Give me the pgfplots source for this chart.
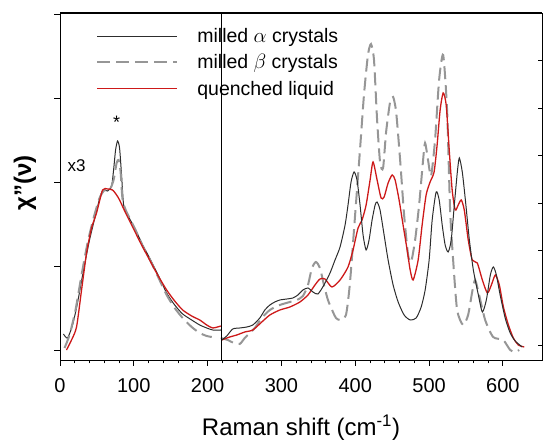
\documentclass[border=0pt]{standalone}
\usepackage{fontspec}
\setmainfont{Liberation Sans}
\usepackage{pgfplots}
\pgfplotsset{compat=1.18}
\definecolor{redline}{RGB}{205,25,25}
\definecolor{grayd}{RGB}{150,150,150}
\definecolor{darkl}{RGB}{45,45,45}

\begin{document}
\begin{tikzpicture}
\begin{axis}[
  name=main,
  width=482pt, height=347pt, scale only axis,
  xmin=0, xmax=653, ymin=0, ymax=347,
  xtick={0,100,...,600}, minor x tick num=4,
  xtick pos=bottom,
  ytick={10,94,178,262,346}, yticklabels={}, ytick pos=left,
  tick align=outside,
  major tick length=6pt, minor tick length=3.5pt,
  tick style={black, line width=0.8pt},
  axis line style={line width=0.8pt},
  /pgf/number format/assume math mode=true,
  xticklabel style={font=\fontsize{20}{20}\selectfont, yshift=-9pt},
  xlabel={Raman shift (cm\textsuperscript{-1})},
  xlabel style={font=\fontsize{24}{24}\selectfont, at={(axis description cs:0.5,-0.196)}, anchor=center},
  ylabel={\bfseries χ"(ν)},
  ylabel style={font=\fontsize{24}{24}\selectfont, at={(axis description cs:-0.073,0.51)}, anchor=center},
  legend style={draw=none, fill=none, at={(axis description cs:0.075,0.962)}, anchor=north west,
     font=\fontsize{19.5}{19.5}\selectfont, row sep=6.5pt, inner sep=0pt,
     /tikz/every odd column/.append style={column sep=17pt}},
  legend cell align=left,
  legend image code/.code={\draw[#1] (0pt,0pt) -- (80pt,0pt);},
]
% milled alpha, left
\addplot[darkl, line width=1pt, smooth, tension=0.4] coordinates {
(4.7,26) (10.2,22) (17,35) (23.7,57) (31.9,90) (40,120) (48.2,145) (55,165) (59,170) (64.5,169) (69.9,174) (72.6,190) (75.3,210) (78,219) (80.7,212) (83.4,185) (86.2,155) (91.6,145) (101.1,132) (112,115) (121.4,102) (132.3,86) (144.5,67) (155.4,55) (166.2,46) (178.4,40) (189.3,35) (198.8,32) (207,30) (217.8,30)};
\addlegendentry{milled $\alpha$ crystals}
% milled beta, left
\addplot[grayd, line width=2pt, dash pattern=on 13pt off 6pt, smooth, tension=0.4] coordinates {
(6.1,12) (12.9,25) (21,50) (29.2,85) (37.3,117) (45.5,142) (53.6,162) (60.4,170) (67.2,170) (72.6,180) (76.7,197) (79.4,200) (82.1,188) (84.8,160) (90.2,148) (101.1,132) (112,114) (121.4,101) (132.3,84) (144.5,65) (155.4,52) (166.2,42) (178.4,33) (189.3,27) (198.8,24) (205.6,23)};
\addlegendentry{milled $\beta$ crystals}
% quenched liquid, left
\addplot[redline, line width=1.3pt, smooth, tension=0.4] coordinates {
(8.8,10) (15.6,20) (22.4,33) (29.2,70) (36,107) (42.7,132) (49.5,147) (57.7,170) (64.5,171) (71.2,170) (76.7,165) (80.7,160) (88.9,147) (98.4,133) (109.2,117) (121.4,100) (132.3,85) (144.5,70) (155.4,59) (166.2,50) (178.4,44) (189.3,40) (198.8,35) (207,32) (217.8,34)};
\addlegendentry{quenched liquid}
% right parts
\addplot[grayd, line width=2pt, dash pattern=on 13pt off 6pt, smooth, tension=0.4, forget plot] coordinates {
(217.8,22) (227.3,20) (235.4,17) (243.5,16) (250.3,22) (257.1,27) (263.9,32) (273.4,42) (284.3,50) (297.8,55) (311.4,58) (320.9,60) (329.1,64) (335.9,75) (341.3,92) (346.7,98) (352.2,92) (357.6,75) (363,60) (369.8,48) (373.9,42) (379.3,40) (387.4,45) (392.8,77) (399.6,143) (406.4,210) (411.8,265) (417.2,305) (421.3,316) (425.4,300) (429.6,240) (433.7,197) (437.7,192) (441.8,228) (447.2,258) (451.3,263) (455.4,248) (460.8,200) (466.2,145) (471.6,105) (475.7,98) (481.1,120) (486.5,155) (491.9,200) (494.6,217) (498.6,200) (502.7,184) (508.1,220) (513.6,280) (519.1,305) (524.4,250) (528.5,150) (532.6,100) (538,50) (546.1,35) (552.9,45) (558.4,68) (562.4,80) (567.8,65) (576,40) (586.8,23) (600.4,20) (609.9,10) (616.7,8) (622.1,10)};
\addplot[redline, line width=1.3pt, smooth, tension=0.4, forget plot] coordinates {
(219.1,20) (229.9,23) (239.5,25) (250.3,28) (261.2,30) (273.4,38) (284.3,45) (297.8,50) (311.4,53) (325,58) (335.9,65) (345.4,75) (352.2,81) (359,81) (368.4,73) (379.4,80) (390.2,93) (397,110) (403.8,132) (409.2,140) (414.7,155) (420.1,180) (424.1,198) (429.6,180) (435,162) (439.1,163) (444.5,177) (450,185) (454,180) (459.4,160) (464.8,135) (470.3,110) (474.4,90) (478.4,80) (485.2,100) (490.6,135) (496,165) (501.4,178) (506.8,188) (510.9,215) (515,250) (519.1,267) (523.2,255) (527.3,210) (531.3,170) (535.4,150) (539.5,155) (543.6,160) (547.7,150) (553.1,120) (558.5,100) (565.3,97) (572.2,80) (579,67) (584.4,75) (589.8,85) (595.2,75) (600.7,53) (607.5,35) (614.2,22) (621,15) (629,13)};
\addplot[darkl, line width=1pt, smooth, tension=0.4, forget plot] coordinates {
(219.1,20) (225.9,24) (234,31) (243.5,32) (253,33) (261.2,35) (270.7,42) (277.5,50) (284.3,55) (291,58) (297.8,60) (307.3,61) (315.5,62) (322.3,65) (329.1,70) (335.9,72) (342.7,68) (349.4,66) (357.6,75) (365.8,87) (372.6,100) (379.4,113) (386.2,135) (390.2,155) (394.3,178) (398.4,188) (402.4,180) (406.5,155) (410.6,125) (414.7,110) (418.7,120) (422.8,140) (426.9,155) (429.6,158) (433.6,150) (439.1,125) (444.5,100) (451.3,75) (458.1,58) (466.2,45) (474.4,40) (482.5,42) (489.3,53) (494.7,70) (500.1,100) (504.2,140) (509.6,168) (513.7,160) (517.8,135) (521.8,115) (525.9,108) (530,120) (534.2,155) (538.3,188) (541,202) (545,188) (549.2,160) (554.6,120) (560,90) (566.8,65) (572.2,48) (577.6,60) (583,85) (587.1,93) (591.2,85) (596.3,65) (603.1,42) (609.9,27) (616.7,19) (626.2,13)};
% separator line
\addplot[black, line width=0.8pt, forget plot] coordinates {(218,0) (218,347)};
\node[font=\fontsize{17}{17}\selectfont] at (axis cs:22.4,194) {x3};
\node[font=\fontsize{18}{18}\selectfont] at (axis cs:76.7,238) {*};
\end{axis}
\begin{axis}[
  width=482pt, height=347pt, scale only axis,
  xmin=0, xmax=653, ymin=0, ymax=347,
  xtick=\empty,
  ytick={15,62,110,157,205,252,300}, yticklabels={}, ytick pos=right,
  tick align=inside, major tick length=4.5pt,
  tick style={black, line width=0.8pt},
  axis line style={line width=0.8pt},
]
\end{axis}
\draw[line width=1.6pt] (main.north west) -- (main.north east);
\pgfresetboundingbox
\path ([shift={(-60pt,-81pt)}]main.south west) rectangle ([shift={(1pt,13pt)}]main.north east);
\end{tikzpicture}
\end{document}
